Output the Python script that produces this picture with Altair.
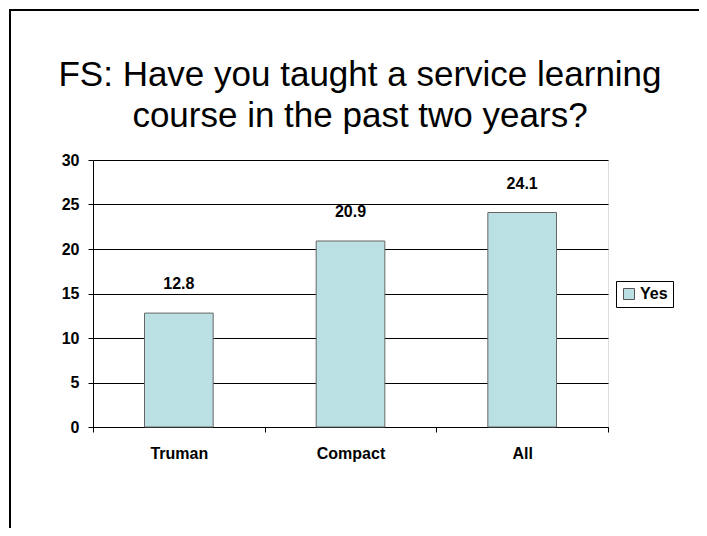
import altair as alt
import pandas as pd

categories = ["Truman", "Compact", "All"]
values = [12.8, 20.9, 24.1]
series = ["Yes", "Yes", "Yes"]
y_ticks = [0, 5, 10, 15, 20, 25, 30]
title_lines = ["FS: Have you taught a service learning", "course in the past two years?"]

df = pd.DataFrame({"category": categories, "value": values, "series": series})
FONT = "Liberation Sans"

x_enc = alt.X(
    "category:N",
    sort=categories,
    scale=alt.Scale(paddingInner=0, paddingOuter=0),
    axis=alt.Axis(
        title=None, labelAngle=0, tickBand="extent", tickSize=5, tickColor="black",
        domainColor="black", labelFont=FONT, labelFontSize=16, labelFontWeight="bold",
        labelColor="black", labelPadding=13, grid=False,
    ),
)
y_enc = alt.Y(
    "value:Q",
    scale=alt.Scale(domain=[0, 30], nice=False),
    axis=alt.Axis(
        title=None, values=y_ticks, grid=True, gridColor="black", gridWidth=1,
        domainColor="black", tickColor="black", tickSize=5, labelFont=FONT,
        labelFontSize=16, labelFontWeight="bold", labelColor="black", labelPadding=9,
    ),
)

bars = alt.Chart(df).mark_bar(
    width=alt.RelativeBandSize(0.4), stroke="#666666", strokeWidth=1
).encode(
    x=x_enc,
    y=y_enc,
    color=alt.Color(
        "series:N",
        scale=alt.Scale(range=["#BBE0E3"]),
        legend=alt.Legend(
            title=None, orient="none", legendX=523, legendY=121, strokeColor="black",
            fillColor="white", padding=5, symbolType="square", symbolSize=121,
            symbolStrokeColor="#555555", symbolStrokeWidth=1, labelFont=FONT,
            labelFontSize=16, labelFontWeight="bold", labelColor="black", labelOffset=3,
        ),
    ),
)

labels = alt.Chart(df).mark_text(
    baseline="alphabetic", dy=-24, font=FONT, fontSize=16, fontWeight="bold", color="black"
).encode(
    x=alt.X("category:N", sort=categories),
    y=alt.Y("value:Q"),
    text=alt.Text("value:Q", format=".1f"),
)

frame_df = pd.DataFrame({"f": [0]})
frame_top = alt.Chart(frame_df).mark_rule(color="black", strokeWidth=2).encode(
    x=alt.value(-84), x2=alt.value(606), y=alt.value(-150)
)
frame_left = alt.Chart(frame_df).mark_rule(color="black", strokeWidth=2).encode(
    x=alt.value(-83), y=alt.value(-151), y2=alt.value(368)
)

title1 = alt.Chart(frame_df).mark_text(
    font=FONT, fontSize=35, color="black", align="center", baseline="alphabetic"
).encode(x=alt.value(267), y=alt.value(-74), text=alt.value(title_lines[0]))
title2 = alt.Chart(frame_df).mark_text(
    font=FONT, fontSize=35, color="black", align="center", baseline="alphabetic"
).encode(x=alt.value(267), y=alt.value(-33), text=alt.value(title_lines[1]))

chart = alt.layer(frame_top, frame_left, title1, title2, bars, labels).properties(
    width=515,
    height=267,
    autosize=alt.AutoSizeParams(type="none"),
    padding={"left": 85, "top": 152, "right": 91, "bottom": 101},
).configure_view(stroke="#808080", strokeWidth=1).configure(background="white")

chart.save("out.html", embed_options={"renderer": "svg", "actions": False})
